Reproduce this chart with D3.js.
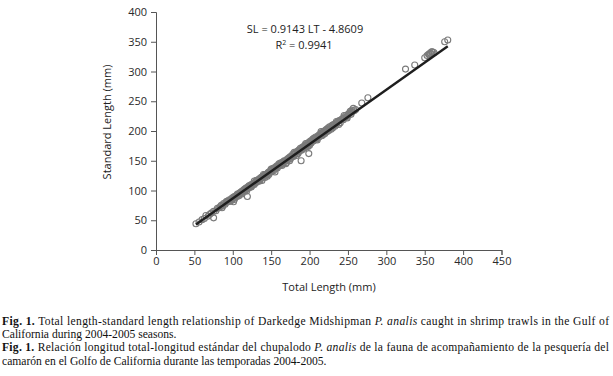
<!DOCTYPE html>
<html>
<head>
<meta charset="utf-8">
<script src="https://cdn.jsdelivr.net/npm/d3@7"></script>
<style>
	body { margin: 0; background: #fff; }
	svg { display: block; }
	.axis text { font-family: 'Open Sans', sans-serif; font-size: 11px; fill: #2a2a2a; }
	.axis path, .axis line { stroke: #555; }
	.caption { font-family: 'Liberation Serif', serif; font-size: 11.6px; fill: #111; }
</style>
</head>
<body>
<div id="chart"></div>
<script>
// tick values
const xTicks = [0, 50, 100, 150, 200, 250, 300, 350, 400, 450];
const yTicks = [0, 50, 100, 150, 200, 250, 300, 350, 400];

// regression from the figure
const slope = 0.9143;
const intercept = -4.8609;
const fitRange = [52, 380];

// total length (mm), standard length (mm)
const tl = [52, 56, 60, 63, 65, 68, 70, 72, 75, 75, 78, 80, 82, 84, 85, 87, 88, 90, 91, 92,
	94, 95, 96, 98, 99, 100, 101, 102, 103, 104, 105, 106, 107, 108, 109, 110, 111, 112, 113, 114,
	115, 116, 117, 118, 119, 119, 120, 121, 122, 123, 124, 125, 126, 127, 128, 129, 130, 131, 132, 133,
	134, 135, 136, 137, 138, 139, 140, 141, 142, 143, 144, 145, 146, 147, 148, 149, 150, 151, 152, 153,
	154, 155, 156, 157, 158, 159, 160, 161, 162, 163, 164, 165, 166, 167, 168, 169, 170, 171, 172, 173,
	174, 175, 176, 177, 178, 179, 180, 181, 182, 183, 184, 185, 186, 187, 188, 189, 189, 190, 191, 192,
	193, 194, 195, 196, 197, 198, 199, 199, 200, 201, 202, 203, 204, 205, 206, 207, 208, 209, 210, 211,
	212, 213, 214, 215, 216, 217, 218, 219, 220, 221, 222, 223, 224, 225, 226, 228, 229, 230, 231, 232,
	234, 235, 236, 238, 240, 241, 243, 245, 247, 248, 250, 252, 253, 255, 257, 260, 268, 276, 325, 337,
	350, 353, 355, 357, 358, 360, 362, 376, 380,
	102, 108, 112, 118, 124, 128, 135, 140, 145, 150, 155, 160, 165, 170, 175, 180, 185, 190, 195, 200,
	205, 210, 215, 220, 225, 230, 235, 240, 245, 250, 255, 258,
	86, 93, 97, 106, 110, 115, 121, 126, 131, 137, 142, 147, 152, 157, 162, 167, 172, 177, 182, 187,
	192, 197, 202, 207, 212, 218, 223, 228, 233, 238, 244, 249, 254, 356, 359];
const sl = [44, 47, 51, 53, 58, 57, 60, 62, 54, 65, 66, 70, 71, 73, 75, 74, 78, 77, 80, 82,
	81, 84, 83, 86, 84, 88, 81, 90, 88, 91, 90, 92, 93, 95, 94, 97, 96, 99, 98, 100,
	101, 100, 104, 102, 90, 105, 106, 104, 108, 107, 110, 108, 111, 112, 110, 114, 113, 116, 115, 118,
	116, 120, 119, 121, 117, 124, 123, 125, 122, 127, 126, 128, 130, 127, 131, 133, 131, 134, 136, 133,
	138, 136, 139, 141, 138, 142, 141, 144, 143, 146, 142, 148, 147, 150, 149, 145, 151, 153, 152, 155,
	150, 157, 156, 158, 161, 157, 160, 162, 164, 159, 166, 165, 168, 166, 171, 150, 169, 172, 170, 174,
	171, 176, 175, 177, 179, 174, 162, 181, 179, 183, 180, 184, 186, 183, 188, 187, 190, 186, 189, 192,
	190, 194, 193, 196, 192, 198, 197, 200, 196, 201, 203, 199, 205, 204, 207, 206, 209, 205, 211, 210,
	213, 211, 215, 217, 214, 219, 221, 222, 226, 224, 228, 230, 233, 235, 238, 236, 247, 256, 304, 311,
	323, 327, 329, 331, 330, 333, 332, 350, 353,
	85, 91, 94, 99, 106, 116, 116, 127, 124, 136, 131, 145, 144, 147, 153, 164, 162, 168, 179, 176,
	187, 185, 199, 200, 201, 209, 216, 218, 226, 226, 232, 234,
	71, 81, 82, 94, 96, 102, 108, 110, 117, 122, 127, 131, 137, 140, 146, 149, 153, 158, 163, 168,
	172, 175, 181, 186, 190, 194, 200, 203, 208, 211, 219, 222, 228, 329, 333];

const captionLines = [
	[{ t: 'Fig. 1.', b: true }, { t: ' Total length-standard length relationship of Darkedge Midshipman ' }, { t: 'P. analis', i: true }, { t: ' caught in shrimp trawls in the Gulf of' }],
	[{ t: 'California during 2004-2005 seasons.' }],
	[{ t: 'Fig. 1.', b: true }, { t: ' Relación longitud total-longitud estándar del chupalodo ' }, { t: 'P. analis', i: true }, { t: ' de la fauna de acompañamiento de la pesquería del' }],
	[{ t: 'camarón en el Golfo de California durante las temporadas 2004-2005.' }],
];
const justified = [true, false, true, false];

const W = 613, H = 376;
const svg = d3.select('#chart').append('svg')
	.attr('width', W)
	.attr('height', H);

const x = d3.scaleLinear().domain([0, 450]).range([156, 501.5]);
const y = d3.scaleLinear().domain([0, 400]).range([250, 12]);

const xAxis = d3.axisBottom(x)
	.tickValues(xTicks)
	.tickSize(5)
	.tickPadding(2);
const yAxis = d3.axisLeft(y)
	.tickValues(yTicks)
	.tickSize(5)
	.tickPadding(4);

// points
const points = tl.map((d, i) => ({ tl: d, sl: sl[i] }));
svg.append('g')
	.selectAll('circle')
	.data(points)
	.enter()
	.append('circle')
		.attr('cx', d => x(d.tl))
		.attr('cy', d => y(d.sl))
		.attr('r', 3)
		.style('fill', 'none')
		.style('stroke', '#7a7a7a')
		.style('stroke-width', 1.1);

// fitted line
const line = d3.line()
	.x(d => x(d))
	.y(d => y(slope * d + intercept));
svg.append('path')
	.datum(fitRange)
	.attr('d', line)
	.style('fill', 'none')
	.style('stroke', '#1e1e1e')
	.style('stroke-width', 2.4);

svg.append('g')
	.attr('class', 'x axis')
	.attr('transform', 'translate(0, 250)')
	.call(xAxis);
svg.append('g')
	.attr('class', 'y axis')
	.attr('transform', 'translate(156, 0)')
	.call(yAxis);

// labels
const labels = svg.append('g')
	.style('font-family', "'Open Sans', sans-serif")
	.style('fill', '#222')
	.style('text-anchor', 'middle');
labels.append('text')
	.attr('x', 329)
	.attr('y', 291)
	.style('font-size', '11px')
	.text('Total Length (mm)');
labels.append('text')
	.attr('transform', 'translate(111, 122) rotate(-90)')
	.style('font-size', '11px')
	.text('Standard Length (mm)');
labels.append('text')
	.attr('x', 305)
	.attr('y', 33)
	.style('font-size', '11px')
	.text('SL = 0.9143 LT - 4.8609');
const r2 = labels.append('text')
	.attr('x', 304)
	.attr('y', 49)
	.style('font-size', '11px');
r2.append('tspan').text('R');
r2.append('tspan').attr('dy', -4).style('font-size', '7px').text('2');
r2.append('tspan').attr('dy', 4).text(' = 0.9941');

// caption
const cap = svg.append('g');
captionLines.forEach((parts, i) => {
	const t = cap.append('text')
		.attr('class', 'caption')
		.attr('x', 2)
		.attr('y', 325 + i * 13.2);
	if (justified[i]) {
		t.attr('textLength', 607).attr('lengthAdjust', 'spacing');
	}
	parts.forEach(p => {
		t.append('tspan')
			.style('font-weight', p.b ? 'bold' : null)
			.style('font-style', p.i ? 'italic' : null)
			.text(p.t);
	});
});
</script>
</body>
</html>
